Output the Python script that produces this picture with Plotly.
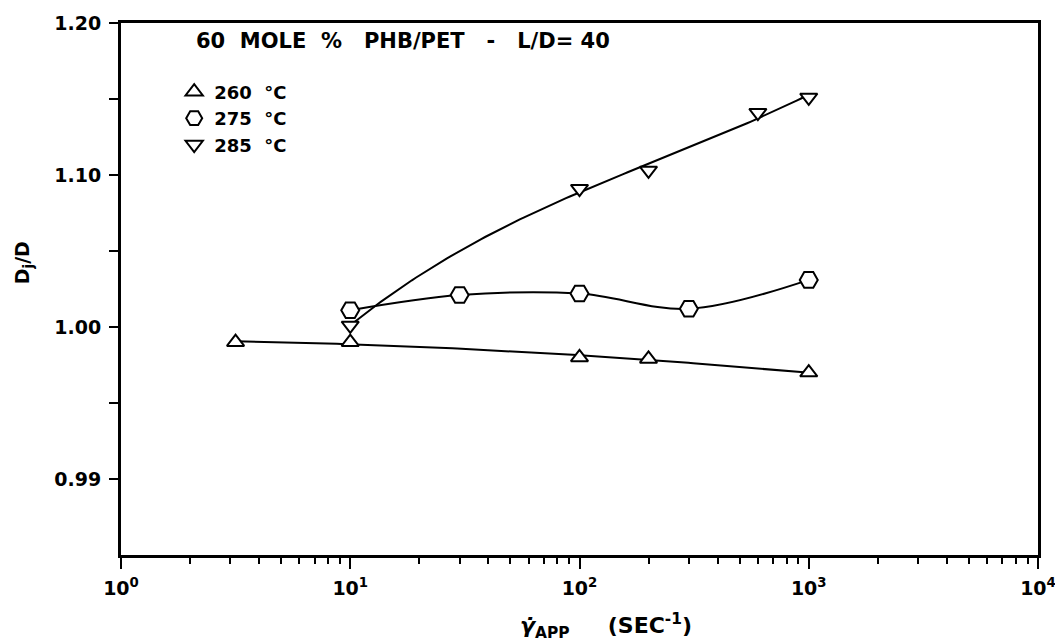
import numpy as np
import plotly.graph_objects as go

# Jet swell ratio Dj/D versus apparent shear rate, 60 mole % PHB/PET, L/D = 40
rate_260 = [3.16, 10, 100, 200, 1000]
dj_260 = [0.990, 0.990, 0.980, 0.979, 0.970]

rate_275 = [10, 30, 100, 300, 1000]
dj_275 = [1.011, 1.021, 1.022, 1.012, 1.031]

rate_285 = [10, 100, 200, 600, 1000]
dj_285 = [1.001, 1.091, 1.103, 1.141, 1.151]

legend_labels = ["260  °C", "275  °C", "285  °C"]

y_tickvals = [0.90, 0.95, 1.00, 1.05, 1.10, 1.15, 1.20]
y_ticktext = ["0.99", "", "1.00", "", "1.10", "", "1.20"]

x_tickvals = [1, 10, 100, 1000, 10000]
x_ticktext = ["10<sup>0</sup>", "10<sup>1</sup>", "10<sup>2</sup>", "10<sup>3</sup>", "10<sup>4</sup>"]

FONT = "DejaVu Sans"


def fitted_curve(x, y, deg, n=120):
    """Least-squares polynomial in log10(x), sampled across the data span."""
    lx = np.log10(np.asarray(x, dtype=float))
    coef = np.polyfit(lx, np.asarray(y, dtype=float), deg)
    grid = np.linspace(lx.min(), lx.max(), n)
    return 10 ** grid, np.polyval(coef, grid)


fig = go.Figure()

# smooth curves drawn through each temperature's data
cx, cy = fitted_curve(rate_260, dj_260, 2)
fig.add_trace(go.Scatter(x=cx, y=cy, mode="lines", line=dict(color="black", width=2),
                         showlegend=False, hoverinfo="skip"))
fig.add_trace(go.Scatter(x=rate_275, y=dj_275, mode="lines",
                         line=dict(color="black", width=2, shape="spline", smoothing=1.0),
                         showlegend=False, hoverinfo="skip"))
cx, cy = fitted_curve(rate_285, dj_285, 3)
fig.add_trace(go.Scatter(x=cx, y=cy, mode="lines", line=dict(color="black", width=2),
                         showlegend=False, hoverinfo="skip"))

# open symbols for the measured points
marker_line = dict(color="black", width=2)
fig.add_trace(go.Scatter(x=rate_260, y=dj_260, mode="markers", name=legend_labels[0],
                         marker=dict(symbol="triangle-up", size=15, color="white", line=marker_line)))
fig.add_trace(go.Scatter(x=rate_275, y=dj_275, mode="markers", name=legend_labels[1],
                         marker=dict(symbol="hexagon2", size=18, color="white", line=marker_line)))
fig.add_trace(go.Scatter(x=rate_285, y=dj_285, mode="markers", name=legend_labels[2],
                         marker=dict(symbol="triangle-down", size=15, color="white", line=marker_line)))

minor_x = [d * m for d in (1, 10, 100, 1000) for m in range(2, 10)]

fig.update_layout(
    width=1055, height=643,
    margin=dict(l=121, r=17, t=23, b=88),
    paper_bgcolor="white", plot_bgcolor="white",
    font=dict(family=FONT, size=18, color="black", weight="bold"),
    showlegend=True,
    legend=dict(x=0.058, y=0.905, xanchor="left", yanchor="top",
                bgcolor="rgba(0,0,0,0)", borderwidth=0,
                font=dict(family=FONT, size=18, color="black", weight="bold"),
                tracegroupgap=0, itemwidth=30),
    xaxis=dict(type="log", range=[0, 4], showgrid=False, zeroline=False, automargin=False,
               showline=True, linecolor="black", linewidth=3, mirror=True,
               ticks="outside", ticklen=11, tickwidth=2, tickcolor="black",
               tickvals=x_tickvals, ticktext=x_ticktext, ticklabelstandoff=3,
               ticklabeloverflow="allow",
               tickfont=dict(family=FONT, size=19, color="black", weight="bold"),
               minor=dict(tickvals=minor_x, ticks="outside", ticklen=6, tickwidth=2,
                          tickcolor="black", showgrid=False)),
    yaxis=dict(range=[0.85, 1.20], showgrid=False, zeroline=False, automargin=False,
               showline=True, linecolor="black", linewidth=3, mirror=True,
               ticks="outside", ticklen=9, tickwidth=2, tickcolor="black",
               tickvals=y_tickvals, ticktext=y_ticktext, ticklabelstandoff=4,
               tickfont=dict(family=FONT, size=19, color="black", weight="bold")),
)

fig.add_annotation(text="60  MOLE  %   PHB/PET   -   L/D= 40", xref="paper", yref="paper",
                   x=0.0796, y=0.966, xanchor="left", yanchor="middle", showarrow=False,
                   font=dict(family=FONT, size=21, color="black", weight="bold"))

fig.add_annotation(text="D<sub>j</sub>/D", xref="paper", yref="paper",
                   x=-0.106, y=0.55, xanchor="center", yanchor="middle", textangle=-90,
                   showarrow=False, font=dict(family=FONT, size=19, color="black"))

fig.add_annotation(text="<i>γ̇</i><sub>APP</sub>     (SEC<sup>-1</sup>)", xref="paper", yref="paper",
                   x=0.529, y=-0.133, xanchor="center", yanchor="middle", showarrow=False,
                   font=dict(family=FONT, size=22, color="black", weight="bold"))

fig.write_html("out.html")
